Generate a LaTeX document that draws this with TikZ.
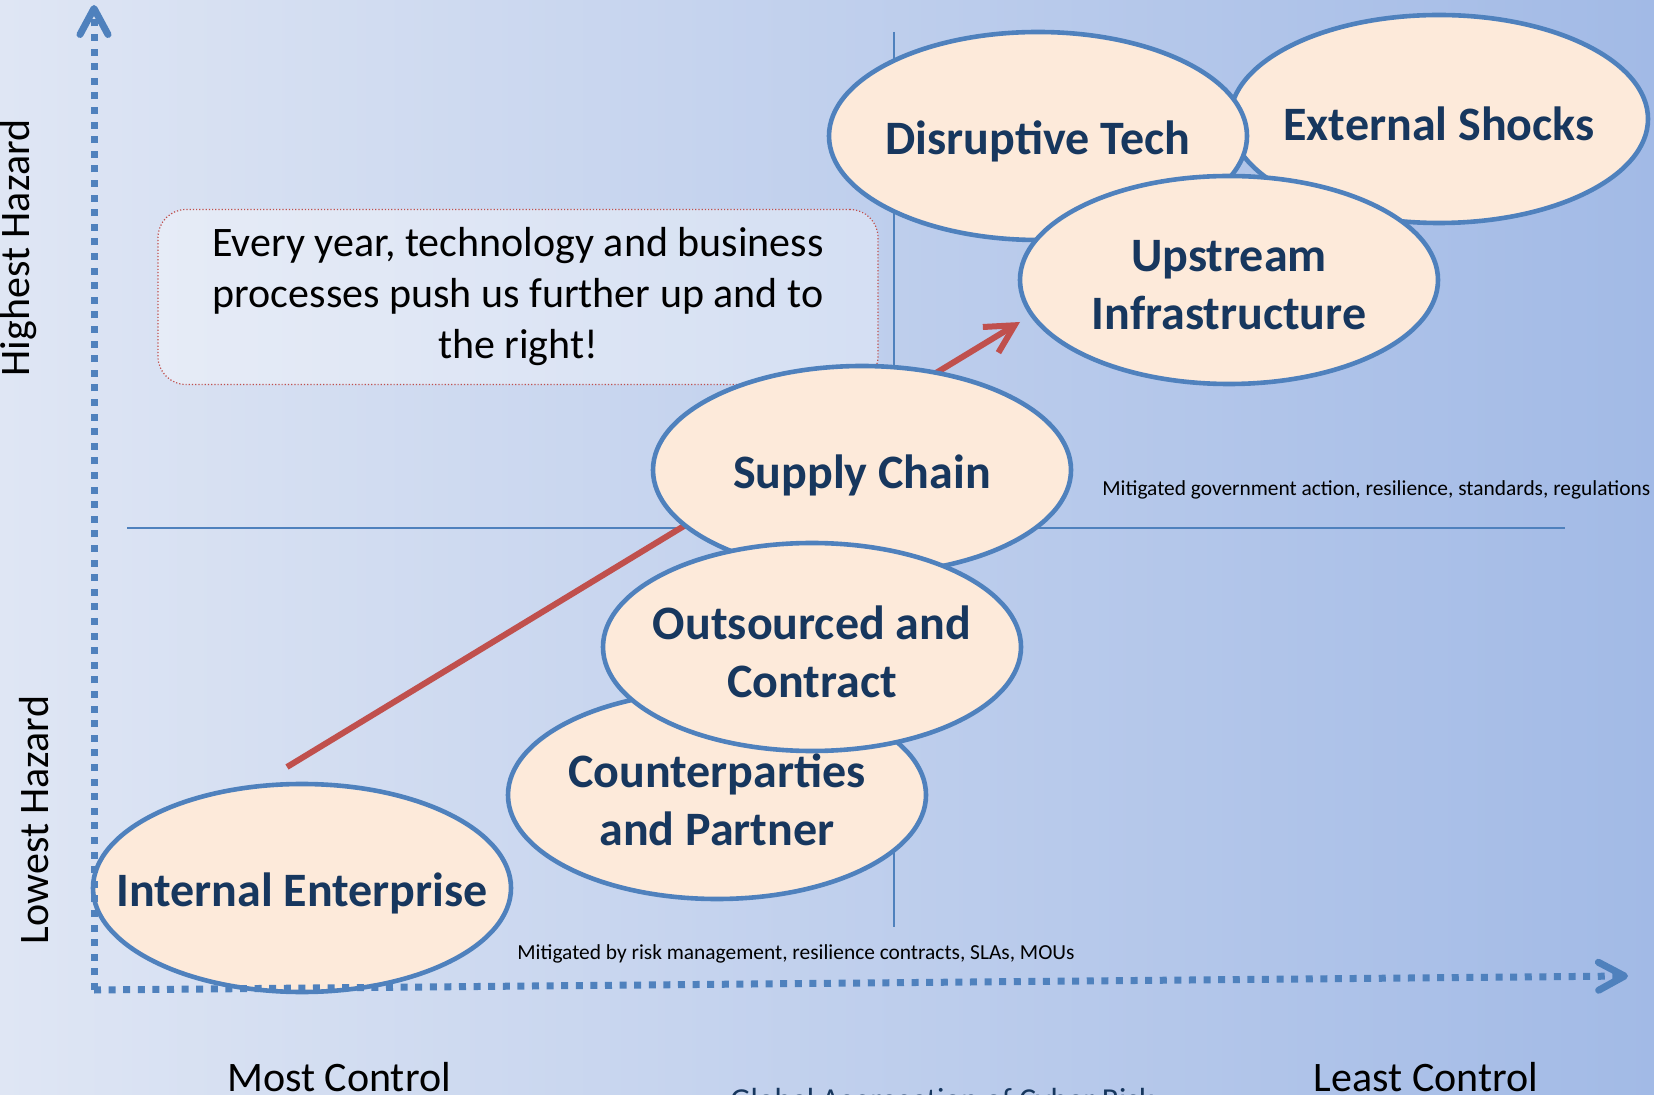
\documentclass[tikz,border=0pt]{standalone}
\usepackage{fontspec}
\setmainfont{Carlito}
\usepackage{xcolor}
\usetikzlibrary{shapes.geometric,arrows.meta}

\definecolor{riskblue}{RGB}{79,129,189}
\definecolor{riskfill}{RGB}{253,234,218}
\definecolor{risknavy}{RGB}{23,55,94}
\definecolor{riskred}{RGB}{192,80,77}
\definecolor{bgleft}{RGB}{223,230,244}
\definecolor{bgright}{RGB}{162,186,230}

\begin{document}
\begin{tikzpicture}[x=0.5pt,y=-0.5pt,
    riskname/.style={align=center,inner sep=0pt,text=risknavy,yshift=-2.5pt,
        font=\fontsize{24}{29}\selectfont\bfseries},
    risk/.style={ellipse,draw=riskblue,line width=2.3pt,fill=riskfill,
        minimum width=209pt,minimum height=104pt,inner sep=0pt,
        label={[riskname]center:#1}},
    axis/.style={riskblue,line width=3.5pt,dash pattern=on 3.5pt off 3.8pt,
        -{Straight Barb[length=13pt,width=14pt,round]}},
    trend/.style={riskred,line width=3pt,-{Straight Barb[length=14pt,width=15pt]}},
    guide/.style={riskblue,line width=1pt},
    note/.style={draw=riskred,densely dotted,line width=0.6pt,rounded corners=14pt,
        fill=white,fill opacity=0.35,text opacity=1,minimum width=360pt,
        minimum height=87.5pt,align=center,font=\fontsize{21}{25.5}\selectfont},
    side/.style={font=\fontsize{21}{25}\selectfont,inner sep=0pt},
    remark/.style={font=\fontsize{10.7}{13}\selectfont,anchor=base west,inner sep=0pt}]

    \useasboundingbox (0,0) rectangle (1654,1095);
    \shade[left color=bgleft,right color=bgright] (0,0) rectangle (1654,1095);

    % quadrant guides
    \coordinate (vtop) at (894,32);
    \coordinate (vbot) at (894,927);
    \coordinate (hleft) at (127,528);
    \coordinate (hright) at (1565,528);
    \draw[guide] (vtop) -- (vbot);
    \draw[guide] (hleft) -- (hright);

    \node[note] (push) at (518,297) {Every year, technology and business\\
        processes push us further up and to\\the right!};

    % trend arrow, runs under the ellipses
    \coordinate (rise0) at (287,767);
    \coordinate (rise1) at (1020,322);
    \draw[trend] (rise0) -- (rise1);

    % upper cluster
    \node[risk={External Shocks}] (shocks) at (1439,119) {};
    \node[risk={Disruptive Tech}] (tech) at (1038,136) {};
    \node[risk={Upstream\\Infrastructure}] (upstream) at (1229,280) {};

    % middle cluster
    \node[risk={Counterparties\\and Partner}] (partner) at (717,795) {};
    \node[risk={Supply Chain}] (supply) at (862,470) {};
    \node[risk={Outsourced and\\Contract}] (outsourced) at (812,647) {};

    \node[risk={Internal Enterprise}] (internal) at (302,888) {};

    % axes
    \coordinate (origin) at (94,990);
    \coordinate (ytip) at (94,5);
    \coordinate (xtip) at (1628,976);
    \draw[axis] (origin) -- (ytip);
    \draw[axis] (origin) -- (xtip);

    \node[side,rotate=90] (high) at (19,248) {Highest Hazard};
    \node[side,rotate=90] (low) at (34,820) {Lowest Hazard};
    \node[side,anchor=base] (most) at (339,1091) {Most Control};
    \node[side,anchor=base] (least) at (1426,1091) {Least Control};
    \node[font=\fontsize{16}{19}\selectfont,text=risknavy,anchor=base,inner sep=0pt] (global) at (942,1110) {Global Aggregation of Cyber Risk};

    \node[remark] (lowmit) at (517,959) {Mitigated by risk management, resilience contracts, SLAs, MOUs};
    \node[remark] (highmit) at (1102,496) {Mitigated government action, resilience, standards, regulations};
\end{tikzpicture}
\end{document}
